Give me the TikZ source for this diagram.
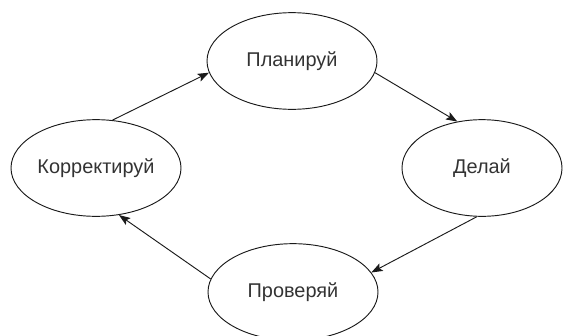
\documentclass[tikz,border=0pt]{standalone}
\usepackage{xcolor}
\usepackage{fontspec}
\setmainfont{Liberation Sans}
\usepackage{tikz}
\usetikzlibrary{arrows.meta,positioning,shapes.geometric}
\definecolor{cycInk}{HTML}{1A1A1A}
\definecolor{cycText}{HTML}{333333}
\tikzset{
  cycbox/.style={ellipse, draw=cycInk, line width=0.8pt, inner sep=0pt,
                 minimum width=5.1cm, minimum height=2.9cm,
                 font=\fontsize{17}{20}\selectfont, text=cycText},
  carr/.style={-{Stealth[length=3.4mm, width=2.5mm, inset=0.7mm]}, line width=0.8pt, draw=cycInk},
}
\begin{document}
\begin{tikzpicture}[x=0.03cm, y=-0.03cm]
    \useasboundingbox (0,0) rectangle (563,335);
    \node[cycbox] (plan) at (292,61) {Планируй};
    \node[cycbox, minimum width=4.8cm] (do) at (482,168) {Делай};
    \node[cycbox] (check) at (293,292) {Проверяй};
    \node[cycbox] (act) at (96,168) {Корректируй};
    \draw[carr] (act.71) -- (plan.188);
    \draw[carr] (plan.-8) -- (do.118);
    \draw[carr] (do.264) -- (check.14);
    \draw[carr] (check.171) -- (act.296);
  \end{tikzpicture}
\end{document}
